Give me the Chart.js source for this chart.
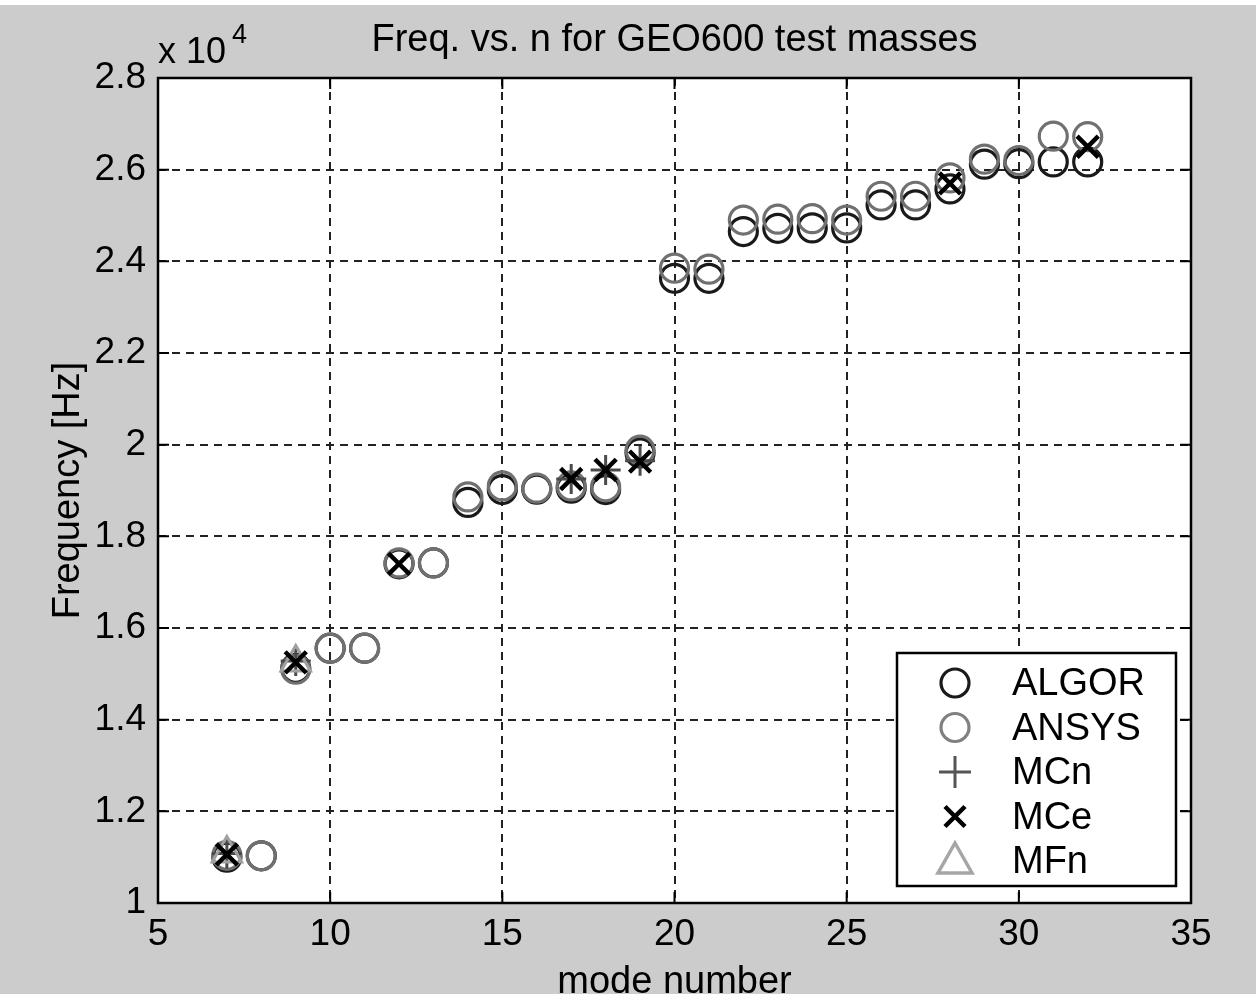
<!DOCTYPE html>
<html>
<head>
<meta charset="utf-8">
<script src="https://cdn.jsdelivr.net/npm/chart.js@4.4.0/dist/chart.umd.min.js"></script>
<style>
  html, body { margin: 0; padding: 0; background: #fff; }
  #wrap { width: 1256px; height: 994px; }
</style>
</head>
<body>
<div id="wrap"><canvas id="freqChart" width="1256" height="994"></canvas></div>
<script>
// mode numbers and frequencies in Hz (axis shows x 10^4)
const modes = [7, 8, 9, 10, 11, 12, 13, 14, 15, 16, 17, 18, 19, 20, 21, 22, 23, 24, 25, 26, 27, 28, 29, 30, 31, 32];
const algorFreq = [11000, 11030, 15120, 15560, 15560, 17400, 17420, 18740, 19020, 19030, 19050, 19020, 19820,
                   23630, 23630, 24650, 24720, 24730, 24730, 25230, 25230, 25580, 26120, 26130, 26170, 26170];
const ansysFreq = [11040, 11030, 15100, 15560, 15560, 17420, 17420, 18860, 19100, 19050, 19100, 19080, 19880,
                   23850, 23830, 24900, 24920, 24930, 24900, 25420, 25420, 25820, 26230, 26200, 26730, 26720];

const mcnModes = [7, 9, 17, 18, 19];
const mcnFreq = [11080, 15280, 19250, 19450, 19650];
const mceModes = [7, 9, 12, 17, 18, 19, 28, 32];
const mceFreq = [11060, 15250, 17400, 19250, 19450, 19630, 25700, 26500];
const mfnModes = [7, 9];
const mfnFreq = [11080, 15250];

const xTicks = [5, 10, 15, 20, 25, 30, 35];
const yTicks = [10000, 12000, 14000, 16000, 18000, 20000, 22000, 24000, 26000, 28000];

const FONT = '"Liberation Sans", Arial, Helvetica, sans-serif';
Chart.defaults.font.family = FONT;
Chart.defaults.font.size = 37;
Chart.defaults.color = '#000';

const toPoints = (xs, ys) => xs.map((x, i) => ({ x: x, y: ys[i] }));

const legendItems = [
    { label: 'ALGOR', style: 'circle', color: '#1a1a1a' },
    { label: 'ANSYS', style: 'circle', color: '#808080' },
    { label: 'MCn', style: 'plus', color: '#555555' },
    { label: 'MCe', style: 'x', color: '#000000' },
    { label: 'MFn', style: 'triangle', color: '#a6a6a6' }
];

const drawSymbol = (ctx, style, x, y, color) => {
    ctx.save();
    ctx.strokeStyle = color;
    ctx.beginPath();
    if (style === 'circle') {
        ctx.lineWidth = 3.2;
        ctx.arc(x, y, 14, 0, Math.PI * 2);
    } else if (style === 'plus') {
        ctx.lineWidth = 3;
        ctx.moveTo(x - 16, y); ctx.lineTo(x + 16, y);
        ctx.moveTo(x, y - 16); ctx.lineTo(x, y + 16);
    } else if (style === 'x') {
        ctx.lineWidth = 4.5;
        ctx.moveTo(x - 10, y - 10); ctx.lineTo(x + 10, y + 10);
        ctx.moveTo(x + 10, y - 10); ctx.lineTo(x - 10, y + 10);
    } else {
        ctx.lineWidth = 3.5;
        ctx.moveTo(x, y - 18); ctx.lineTo(x + 17, y + 12); ctx.lineTo(x - 17, y + 12);
        ctx.closePath();
    }
    ctx.stroke();
    ctx.restore();
};

const matlabFrame = {
    id: 'matlabFrame',
    beforeDraw(chart) {
        const { ctx, chartArea: a } = chart;
        ctx.save();
        ctx.fillStyle = '#ffffff';
        ctx.fillRect(0, 0, chart.width, chart.height);
        ctx.fillStyle = '#cccccc';
        ctx.fillRect(0, 5, chart.width, chart.height - 5);
        ctx.fillStyle = '#ffffff';
        ctx.fillRect(a.left, a.top, a.right - a.left, a.bottom - a.top);
        ctx.restore();
    },
    afterDraw(chart) {
        const { ctx, chartArea: a, scales } = chart;
        ctx.save();
        // solid box and inward ticks
        ctx.strokeStyle = '#000';
        ctx.lineWidth = 2.5;
        ctx.strokeRect(a.left, a.top, a.right - a.left, a.bottom - a.top);
        ctx.lineWidth = 2;
        ctx.beginPath();
        xTicks.forEach(v => {
            const px = scales.x.getPixelForValue(v);
            ctx.moveTo(px, a.bottom); ctx.lineTo(px, a.bottom - 11);
            ctx.moveTo(px, a.top); ctx.lineTo(px, a.top + 11);
        });
        yTicks.forEach(v => {
            const py = scales.y.getPixelForValue(v);
            ctx.moveTo(a.left, py); ctx.lineTo(a.left + 11, py);
            ctx.moveTo(a.right, py); ctx.lineTo(a.right - 11, py);
        });
        ctx.stroke();

        // texts
        ctx.fillStyle = '#000';
        ctx.font = '38px ' + FONT;
        ctx.textAlign = 'center';
        ctx.textBaseline = 'alphabetic';
        ctx.fillText('Freq. vs. n for GEO600 test masses', (a.left + a.right) / 2, 51);
        ctx.fillText('mode number', (a.left + a.right) / 2, 993);
        ctx.save();
        ctx.translate(79, (a.top + a.bottom) / 2);
        ctx.rotate(-Math.PI / 2);
        ctx.fillText('Frequency [Hz]', 0, 0);
        ctx.restore();
        ctx.textAlign = 'left';
        ctx.font = '36px ' + FONT;
        ctx.fillText('x 10', a.left, 63);
        ctx.font = '27px ' + FONT;
        ctx.fillText('4', a.left + 74, 43);

        // legend box
        const bx = a.right - 294, by = a.bottom - 250, bw = 279, bh = 233;
        ctx.fillStyle = '#fff';
        ctx.fillRect(bx, by, bw, bh);
        ctx.strokeStyle = '#000';
        ctx.lineWidth = 2.5;
        ctx.strokeRect(bx, by, bw, bh);
        ctx.font = '38px ' + FONT;
        ctx.fillStyle = '#000';
        ctx.textBaseline = 'middle';
        legendItems.forEach((item, i) => {
            const cy = by + 30 + i * 44.5;
            drawSymbol(ctx, item.style, bx + 58, cy, item.color);
            ctx.fillText(item.label, bx + 115, cy + 2);
        });
        ctx.restore();
    }
};

const ctx = document.getElementById('freqChart').getContext('2d');
new Chart(ctx, {
    type: 'scatter',
    data: {
        datasets: [
            {
                label: 'ALGOR', data: toPoints(modes, algorFreq), order: 5,
                pointStyle: 'circle', pointRadius: 14, pointHoverRadius: 14,
                borderWidth: 3.2, borderColor: '#1a1a1a', backgroundColor: 'rgba(0,0,0,0)'
            },
            {
                label: 'ANSYS', data: toPoints(modes, ansysFreq), order: 4,
                pointStyle: 'circle', pointRadius: 14, pointHoverRadius: 14,
                borderWidth: 3.2, borderColor: '#707070', backgroundColor: 'rgba(0,0,0,0)'
            },
            {
                label: 'MCn', data: toPoints(mcnModes, mcnFreq), order: 3,
                pointStyle: 'cross', pointRadius: 15, pointHoverRadius: 15,
                borderWidth: 3, borderColor: '#4a4a4a', backgroundColor: '#4a4a4a'
            },
            {
                label: 'MFn', data: toPoints(mfnModes, mfnFreq), order: 2,
                pointStyle: 'triangle', pointRadius: 17, pointHoverRadius: 17,
                borderWidth: 3, borderColor: '#a0a0a0', backgroundColor: 'rgba(0,0,0,0)'
            },
            {
                label: 'MCe', data: toPoints(mceModes, mceFreq), order: 1,
                pointStyle: 'crossRot', pointRadius: 15, pointHoverRadius: 15,
                borderWidth: 4.5, borderColor: '#000000', backgroundColor: '#000000'
            }
        ]
    },
    options: {
        responsive: false,
        devicePixelRatio: 1,
        animation: false,
        layout: { padding: { top: 78, right: 65, left: 0, bottom: 0 } },
        plugins: {
            legend: { display: false },
            title: { display: false },
            tooltip: { enabled: false }
        },
        scales: {
            x: {
                type: 'linear', min: 5, max: 35,
                afterFit: (scale) => { scale.height = 91; },
                afterBuildTicks: (scale) => { scale.ticks = xTicks.map(v => ({ value: v })); },
                ticks: { autoSkip: false, maxRotation: 0, padding: 10, callback: v => String(v) },
                grid: { color: '#222', lineWidth: 2, drawTicks: false },
                border: { display: false, dash: [8, 6] }
            },
            y: {
                type: 'linear', min: 10000, max: 28000,
                afterFit: (scale) => { scale.width = 158; },
                afterBuildTicks: (scale) => { scale.ticks = yTicks.map(v => ({ value: v })); },
                ticks: { autoSkip: false, padding: 12, callback: v => String(Math.round(v / 1000) / 10) },
                grid: { color: '#222', lineWidth: 2, drawTicks: false },
                border: { display: false, dash: [8, 6] }
            }
        }
    },
    plugins: [matlabFrame]
});
</script>
</body>
</html>
